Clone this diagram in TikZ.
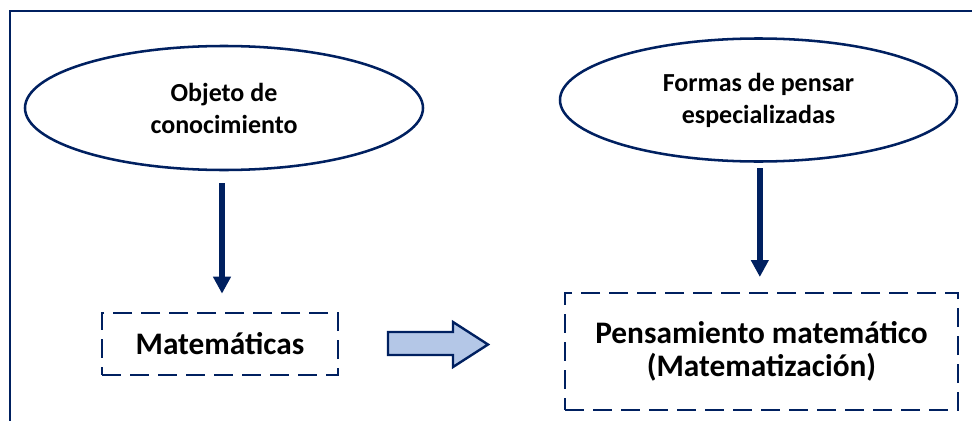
\documentclass[tikz,border=0pt]{standalone}
\usepackage{fontspec}
\setmainfont{Carlito}
\usetikzlibrary{shapes.geometric,arrows.meta}
\definecolor{navy}{HTML}{002060}
\definecolor{paleblue}{HTML}{B4C7E7}
\tikzset{
  oval/.style={ellipse, draw=navy, line width=1.9pt, align=center,
    font=\fontsize{19.5}{24}\selectfont\bfseries, inner sep=0pt},
  dashbox/.style={rectangle, draw=navy, line width=2pt,
    dash pattern=on 14pt off 7pt, align=center,
    font=\fontsize{23.5}{25}\selectfont\bfseries, inner sep=0pt},
  downarrow/.style={draw=navy, line width=4.5pt,
    -{Triangle[length=12.75pt,width=12.75pt]}},
  frameline/.style={draw=navy, line width=1.5pt}
}
\begin{document}
\begin{tikzpicture}[x=0.75pt,y=-0.75pt]
  \useasboundingbox (0,0) rectangle (972,421);
  % outer frame (only top and left edges fall inside the page)
  \draw[frameline] (10,430) -- (10,11) -- (980,11);

  \node[oval, minimum width=298.5pt, minimum height=93pt] (obj) at (224,108)
    {Objeto de\\conocimiento};
  \node[oval, minimum width=297.75pt, minimum height=92.25pt] (formas) at (758.5,100)
    {Formas de pensar\\especializadas};

  \node[dashbox, minimum width=177pt, minimum height=46.5pt] (mat) at (220,344)
    {Matemáticas};
  \node[dashbox, minimum width=294.75pt, minimum height=87.75pt] (pens) at (761.5,351.5)
    {Pensamiento matemático\\(Matematización)};

  % vertical connectors
  \draw[downarrow, shorten <=9pt, shorten >=13.5pt]
    ([xshift=-1.5pt]obj.south) -- ([xshift=-1.5pt]obj.south |- mat.north);
  \draw[downarrow, shorten <=4pt, shorten >=11pt]
    ([xshift=1pt]formas.south) -- ([xshift=1pt]formas.south |- pens.north);

  % block arrow between the two boxes
  \draw[navy, line width=1.8pt, fill=paleblue, line join=miter]
    (388,332) -- (453,332) -- (453,322) -- (488,344.5) -- (453,367)
    -- (453,355) -- (388,355) -- cycle;
\end{tikzpicture}
\end{document}
